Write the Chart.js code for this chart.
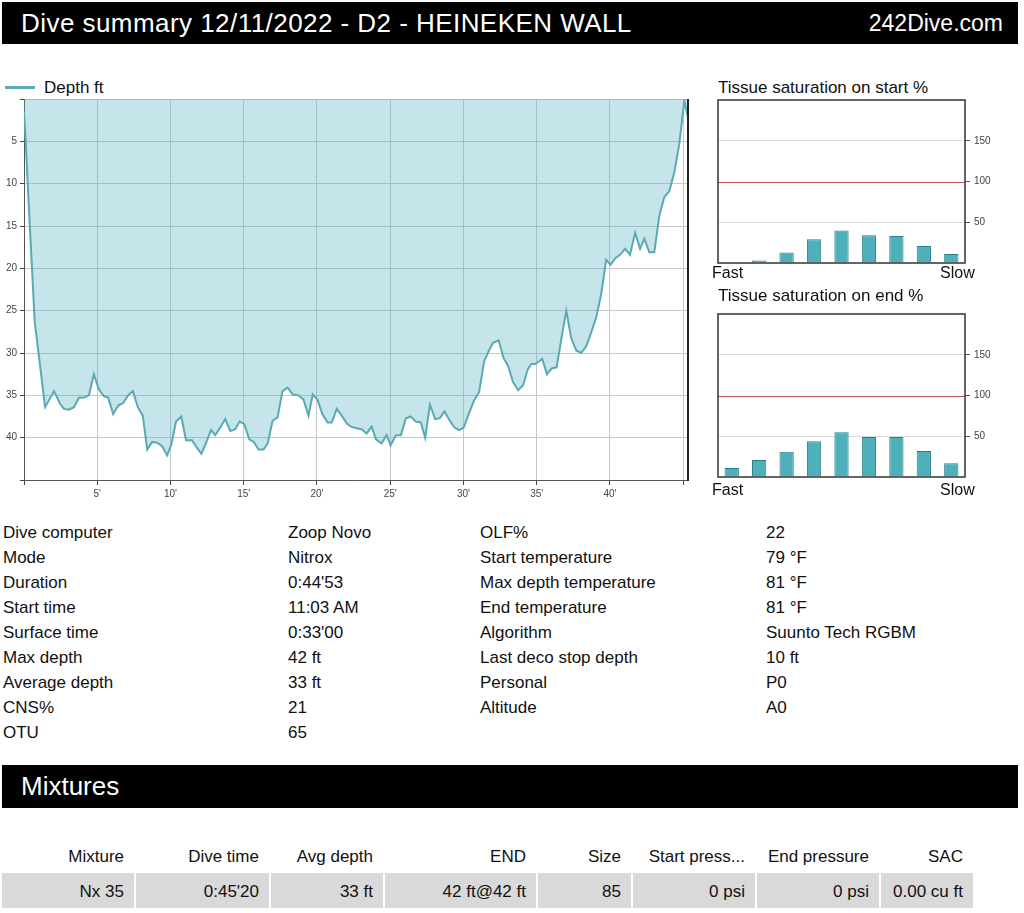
<!DOCTYPE html>
<html><head><meta charset="utf-8">
<script src="https://cdn.jsdelivr.net/npm/chart.js@4.4.1/dist/chart.umd.min.js"></script>
<style>
html,body{margin:0;padding:0;background:#fff;}
body{width:1024px;height:913px;position:relative;overflow:hidden;font-family:"Liberation Sans",Arial,Helvetica,sans-serif;color:#111;}
.abs{position:absolute;white-space:nowrap;}
.band{position:absolute;left:2px;width:1016px;background:#000;color:#fff;}
.info{position:absolute;font-size:17px;line-height:25px;white-space:nowrap;}
.cv{position:absolute;}
.cell{position:absolute;background:#d9d9d9;}
.txt16{font-size:17px;line-height:20px;}
</style>
</head><body>

<div class="band" style="top:2px;height:42px;">
  <div class="abs" style="left:19px;top:0;font-size:26px;letter-spacing:0.45px;line-height:42px;">Dive summary 12/11/2022 - D2 - HEINEKEN WALL</div>
  <div class="abs" style="right:15px;top:0;font-size:23px;line-height:42px;">242Dive.com</div>
</div>

<div class="abs" style="left:5px;top:86px;width:30px;height:3px;background:#5aa9b3;"></div>
<div class="abs" style="left:44px;top:78px;font-size:17px;line-height:20px;">Depth ft</div>

<div class="cv" style="left:0;top:90px;width:700px;height:420px;"><canvas id="depth" width="700" height="420"></canvas></div>

<div class="abs" style="left:718px;top:78px;font-size:17px;line-height:20px;">Tissue saturation on start %</div>
<div class="cv" style="left:700px;top:90px;width:310px;height:185px;"><canvas id="tstart" width="310" height="185"></canvas></div>
<div class="abs" style="left:712px;top:263px;font-size:16px;line-height:20px;">Fast</div>
<div class="abs" style="left:940px;top:263px;width:33px;text-align:right;font-size:16px;line-height:20px;">Slow</div>

<div class="abs" style="left:718px;top:286px;font-size:17px;line-height:20px;">Tissue saturation on end %</div>
<div class="cv" style="left:700px;top:304px;width:310px;height:185px;"><canvas id="tend" width="310" height="185"></canvas></div>
<div class="abs" style="left:712px;top:480px;font-size:16px;line-height:20px;">Fast</div>
<div class="abs" style="left:940px;top:480px;width:33px;text-align:right;font-size:16px;line-height:20px;">Slow</div>

<div id="info"></div>

<div class="band" style="top:765px;height:43px;">
  <div class="abs" style="left:19px;top:0;font-size:26px;line-height:43px;">Mixtures</div>
</div>
<div id="mix"></div>

<script>
// ---- Depth profile (minutes, feet) ----
const times = [0, 0.12, 0.25, 0.73, 1.14, 1.44, 2.05, 2.46, 2.73, 3.07, 3.41, 3.75, 4.05, 4.43, 4.77, 5.11, 5.46, 5.75, 6.09, 6.43, 6.77, 7.11, 7.43, 7.77, 8.11, 8.41, 8.75, 9.09, 9.43, 9.77, 10.06, 10.38, 10.74, 11.06, 11.47, 11.81, 12.11, 12.43, 12.77, 13.06, 13.4, 13.74, 14.08, 14.42, 14.72, 15.04, 15.38, 15.69, 16.01, 16.35, 16.63, 16.97, 17.31, 17.65, 17.99, 18.35, 18.74, 19.08, 19.42, 19.71, 20.03, 20.37, 20.72, 21.01, 21.35, 21.69, 22.03, 22.32, 22.7, 23.05, 23.39, 23.73, 24.03, 24.41, 24.75, 25.03, 25.39, 25.73, 26.07, 26.39, 26.75, 27.09, 27.39, 27.71, 28.07, 28.39, 28.71, 29.07, 29.39, 29.71, 30.02, 30.36, 30.7, 31.07, 31.41, 31.72, 32.02, 32.4, 32.74, 33.04, 33.38, 33.73, 34.07, 34.4, 34.63, 34.9, 35.38, 35.7, 36.04, 36.36, 36.68, 37.02, 37.35, 37.7, 38.04, 38.38, 38.72, 39.06, 39.4, 39.74, 40.04, 40.37, 40.69, 41.04, 41.37, 41.72, 42.06, 42.35, 42.69, 43.03, 43.37, 43.71, 44.05, 44.39, 44.73, 45.08, 45.33];
const depths = [1.5, 5, 10, 26.3, 32.1, 36.4, 34.5, 36.0, 36.6, 36.7, 36.4, 35.3, 35.3, 35.0, 32.5, 34.3, 35.1, 35.3, 37.2, 36.2, 35.9, 35.0, 34.5, 36.4, 37.4, 41.4, 40.5, 40.6, 41.0, 42.1, 40.8, 38.1, 37.5, 40.3, 40.3, 41.2, 41.9, 40.6, 39.1, 39.7, 38.8, 37.8, 39.2, 39.0, 38.1, 38.4, 40.2, 40.5, 41.4, 41.4, 40.7, 38.0, 37.6, 34.5, 34.1, 34.9, 35.0, 35.5, 37.4, 34.9, 35.5, 37.2, 38.2, 38.2, 36.6, 37.4, 38.3, 38.7, 38.9, 39.0, 39.5, 38.7, 40.2, 40.7, 39.7, 40.9, 39.7, 39.7, 37.7, 37.5, 38.1, 38.2, 40.0, 36.1, 37.8, 37.7, 36.9, 38.0, 38.8, 39.1, 38.8, 37.2, 35.7, 34.6, 31.0, 29.8, 28.8, 28.5, 30.6, 31.5, 33.4, 34.4, 33.8, 31.9, 31.3, 31.3, 30.7, 32.5, 31.8, 31.7, 28.4, 25.0, 28.2, 29.7, 30.0, 29.2, 27.6, 25.8, 23.1, 19.0, 19.6, 18.8, 18.4, 17.7, 18.4, 15.8, 17.7, 16.5, 18.1, 18.1, 13.8, 11.6, 10.9, 8.7, 5.4, 0.2, 2.2];
const timeTicks = [0, 5, 10, 15, 20, 25, 30, 35, 40, 45];
const depthTicks = [0, 5, 10, 15, 20, 25, 30, 35, 40, 45];
const timeMax = 45.33;
const depthMax = 45;

// ---- Tissue saturation (%), 9 compartments fast -> slow ----
const tissueCompartments = ['1', '2', '3', '4', '5', '6', '7', '8', '9'];
const tissueStart = [0, 3, 13, 29, 40, 34, 33, 21, 11];
const tissueEnd = [11, 21, 31, 44, 55, 49, 49, 32, 17];
const tissueTicks = [0, 50, 100, 150, 200];
const tissueLimit = 100;

// ---- Text tables ----
const infoLabelsL = ['Dive computer', 'Mode', 'Duration', 'Start time', 'Surface time', 'Max depth', 'Average depth', 'CNS%', 'OTU'];
const infoValuesL = ['Zoop Novo', 'Nitrox', "0:44'53", '11:03 AM', "0:33'00", '42 ft', '33 ft', '21', '65'];
const infoLabelsR = ['OLF%', 'Start temperature', 'Max depth temperature', 'End temperature', 'Algorithm', 'Last deco stop depth', 'Personal', 'Altitude'];
const infoValuesR = ['22', '79 °F', '81 °F', '81 °F', 'Suunto Tech RGBM', '10 ft', 'P0', 'A0'];
const mixHeaders = ['Mixture', 'Dive time', 'Avg depth', 'END', 'Size', 'Start press...', 'End pressure', 'SAC'];
const mixRow = ['Nx 35', "0:45'20", '33 ft', '42 ft@42 ft', '85', '0 psi', '0 psi', '0.00 cu ft'];

// ---- build text sections ----
(function(){
  const info = document.getElementById('info');
  const cols = [[infoLabelsL, 3], [infoValuesL, 288], [infoLabelsR, 480], [infoValuesR, 766]];
  cols.forEach(([arr, x]) => arr.forEach((t, i) => {
    const d = document.createElement('div');
    d.className = 'info'; d.textContent = t;
    d.style.left = x + 'px'; d.style.top = (520 + 25 * i) + 'px';
    info.appendChild(d);
  }));
  const mix = document.getElementById('mix');
  const bounds = [[2,134],[136,269],[271,383],[385,536],[538,631],[633,755],[757,879],[881,973]];
  bounds.forEach(([a,b], i) => {
    const c = document.createElement('div');
    c.className = 'cell';
    c.style.left = a + 'px'; c.style.width = (b - a) + 'px';
    c.style.top = '873px'; c.style.height = '35px';
    mix.appendChild(c);
    const h = document.createElement('div');
    h.className = 'abs txt16'; h.textContent = mixHeaders[i];
    h.style.left = a + 'px'; h.style.width = (b - a - 10) + 'px'; h.style.textAlign = 'right';
    h.style.top = '847px';
    mix.appendChild(h);
    const v = document.createElement('div');
    v.className = 'abs txt16'; v.textContent = mixRow[i];
    v.style.left = a + 'px'; v.style.width = (b - a - 10) + 'px'; v.style.textAlign = 'right';
    v.style.top = '882px';
    mix.appendChild(v);
  });
})();

// ---- charts ----
Chart.defaults.font.family = '"Liberation Sans", Arial, Helvetica, sans-serif';
Chart.defaults.animation = false;

const framePlugin = {
  id: 'frame',
  afterDatasetsDraw(chart, args, opts) {
    const { ctx, chartArea: a } = chart;
    ctx.save();
    if (opts.refValue !== undefined) {
      const y = Math.round(chart.scales.y.getPixelForValue(opts.refValue)) + 0.5;
      ctx.strokeStyle = opts.refColor;
      ctx.lineWidth = 1;
      ctx.beginPath();
      ctx.moveTo(a.left, y);
      ctx.lineTo(a.right, y);
      ctx.stroke();
    }
    ctx.strokeStyle = opts.color || '#333';
    ctx.lineWidth = opts.width || 1;
    if (opts.rightOnly) {
      ctx.beginPath();
      ctx.moveTo(a.right, a.top);
      ctx.lineTo(a.right, a.bottom + 1);
      ctx.stroke();
    } else {
      ctx.strokeRect(a.left, a.top, a.right - a.left, a.bottom - a.top);
    }
    ctx.restore();
  }
};

new Chart(document.getElementById('depth'), {
  type: 'line',
  data: {
    datasets: [{
      label: 'Depth ft',
      data: times.map((t, i) => ({ x: t, y: depths[i] })),
      borderColor: '#5aa9b3',
      backgroundColor: 'rgba(80,175,190,0.33)',
      borderWidth: 2,
      pointRadius: 0,
      tension: 0,
      fill: { value: 0 }
    }]
  },
  options: {
    responsive: false,
    layout: { padding: { top: 7, right: 12, left: 0, bottom: 0 } },
    plugins: {
      legend: { display: false },
      tooltip: { enabled: false },
      frame: { rightOnly: true, color: '#222', width: 2 }
    },
    scales: {
      x: {
        type: 'linear', min: 0, max: timeMax,
        afterBuildTicks: s => { s.ticks = timeTicks.map(v => ({ value: v })); },
        afterFit: s => { s.height = 30; },
        ticks: {
          autoSkip: false, maxRotation: 0, padding: 3,
          font: { size: 10 }, color: '#444',
          callback: v => (v === 0 || v === 45) ? '' : v + "'"
        },
        grid: { color: '#c8c8c8', tickColor: '#444', tickLength: 5 },
        border: { color: '#555', width: 1 }
      },
      y: {
        type: 'linear', min: 0, max: depthMax, reverse: true,
        afterBuildTicks: s => { s.ticks = depthTicks.map(v => ({ value: v })); },
        afterFit: s => { s.width = 24; },
        ticks: {
          autoSkip: false, padding: 3,
          font: { size: 10 }, color: '#444',
          callback: v => (v === 0 || v === 45) ? '' : String(v)
        },
        grid: { color: '#c8c8c8', tickColor: '#444', tickLength: 4 },
        border: { color: '#555', width: 1 }
      }
    }
  },
  plugins: [framePlugin]
});

function tissueChart(id, values) {
  return new Chart(document.getElementById(id), {
    type: 'bar',
    data: {
      labels: tissueCompartments,
      datasets: [{
        data: values,
        backgroundColor: '#4eb0bb',
        borderColor: '#2c7d87',
        borderWidth: 1,
        barPercentage: 0.52,
        categoryPercentage: 1
      }]
    },
    options: {
      responsive: false,
      layout: { padding: { top: 8, left: 18, right: 0, bottom: 12 } },
      plugins: {
        legend: { display: false },
        tooltip: { enabled: false },
        frame: { color: '#333', width: 1.5, refValue: tissueLimit, refColor: '#b4524c' }
      },
      scales: {
        x: { display: false },
        y: {
          position: 'right', min: 0, max: 200,
          afterBuildTicks: s => { s.ticks = tissueTicks.map(v => ({ value: v })); },
          afterFit: s => { s.width = 45; },
          ticks: {
            autoSkip: false, padding: 4, font: { size: 10 }, color: '#444',
            callback: v => (v === 0 || v === 200) ? '' : String(v)
          },
          grid: {
            color: c => (c.tick && (c.tick.value === 50 || c.tick.value === 150)) ? '#dcdcdc' : 'rgba(0,0,0,0)',
            tickColor: c => (c.tick && (c.tick.value === 0 || c.tick.value === 200)) ? 'rgba(0,0,0,0)' : '#555',
            tickLength: 5
          },
          border: { display: false }
        }
      }
    },
    plugins: [framePlugin]
  });
}
tissueChart('tstart', tissueStart);
tissueChart('tend', tissueEnd);
</script>
</body></html>
